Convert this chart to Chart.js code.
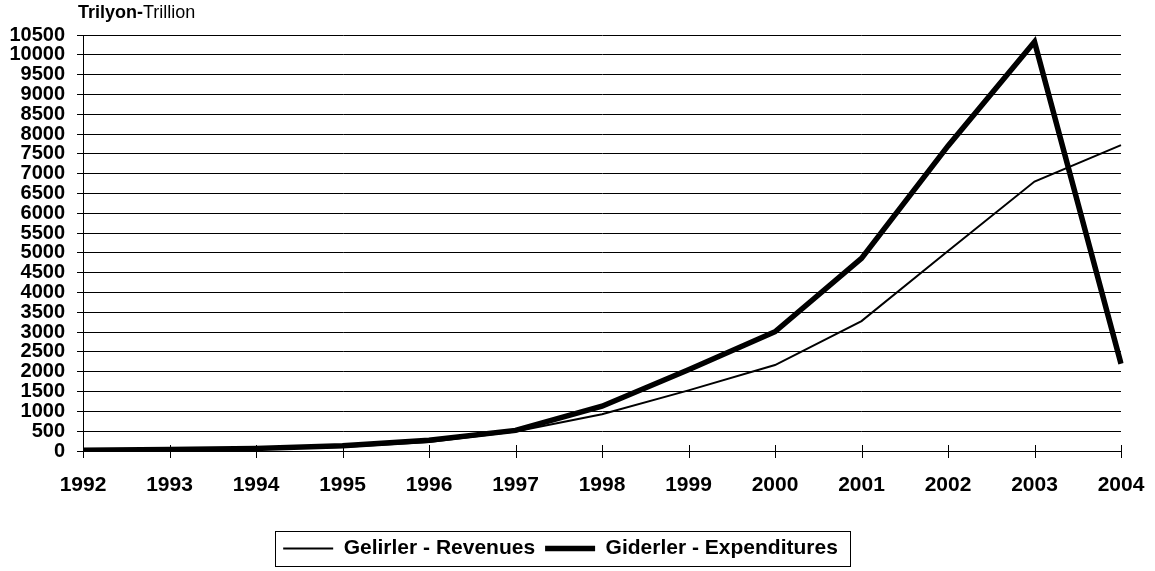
<!DOCTYPE html>
<html>
<head>
<meta charset="utf-8">
<script src="https://cdn.jsdelivr.net/npm/chart.js@4.4.1/dist/chart.umd.min.js"></script>
<style>
  html, body { margin: 0; padding: 0; background: #fff; }
  #wrap { width: 1155px; height: 571px; }
</style>
</head>
<body>
<div id="wrap"><canvas id="chart" width="1155" height="571"></canvas></div>
<script>
const years = ["1992", "1993", "1994", "1995", "1996", "1997", "1998", "1999", "2000", "2001", "2002", "2003", "2004"];
const revenues = [15, 30, 50, 100, 230, 490, 930, 1530, 2170, 3280, 5050, 6800, 7720];
const expenditures = [20, 35, 65, 130, 270, 520, 1130, 2050, 3010, 4860, 7700, 10330, 2200];
const yMin = 0;
const yMax = 10500;
const yStep = 500;
const unitBold = "Trilyon-";
const unitNormal = "Trillion";

const FONT = "Arial, 'Liberation Sans', sans-serif";
Chart.defaults.font.family = FONT;
Chart.defaults.color = "#000";

// unit caption above the y axis, bold + regular in one line
const unitCaption = {
  id: "unitCaption",
  afterDraw(chart) {
    const ctx = chart.ctx;
    ctx.save();
    ctx.fillStyle = "#000";
    ctx.textBaseline = "alphabetic";
    ctx.font = "bold 18px " + FONT;
    const x0 = 78;
    ctx.fillText(unitBold, x0, 18);
    const w = ctx.measureText(unitBold).width;
    ctx.font = "18px " + FONT;
    ctx.fillText(unitNormal, x0 + w, 18);
    ctx.restore();
  }
};

// small tick marks crossing the x axis
const xTickMarks = {
  id: "xTickMarks",
  afterDraw(chart) {
    const x = chart.scales.x;
    const bottom = chart.chartArea.bottom;
    const ctx = chart.ctx;
    ctx.save();
    ctx.strokeStyle = "#000";
    ctx.lineWidth = 1;
    ctx.beginPath();
    for (let i = 0; i < x.ticks.length; i++) {
      const px = Math.round(x.getPixelForTick(i)) + 0.5;
      ctx.moveTo(px, bottom - 6);
      ctx.lineTo(px, bottom + 7);
    }
    ctx.stroke();
    ctx.restore();
  }
};

// frame round the legend
const legendFrame = {
  id: "legendFrame",
  afterDraw(chart) {
    const boxes = chart.legend.legendHitBoxes;
    if (!boxes || !boxes.length) return;
    const first = boxes[0];
    const last = boxes[boxes.length - 1];
    const left = first.left - 8;
    const right = last.left + last.width + 12;
    const top = first.top - 7;
    const bottom = first.top + first.height + 7;
    const ctx = chart.ctx;
    ctx.save();
    ctx.strokeStyle = "#000";
    ctx.lineWidth = 1;
    ctx.strokeRect(Math.round(left) + 0.5, Math.round(top) + 0.5, Math.round(right - left), Math.round(bottom - top));
    ctx.restore();
  }
};

new Chart(document.getElementById("chart"), {
  type: "line",
  data: {
    labels: years,
    datasets: [
      {
        label: "Gelirler - Revenues",
        data: revenues,
        borderColor: "#000",
        backgroundColor: "#000",
        borderWidth: 2,
        pointRadius: 0,
        tension: 0
      },
      {
        label: "Giderler - Expenditures",
        data: expenditures,
        borderColor: "#000",
        backgroundColor: "#000",
        borderWidth: 5.5,
        pointRadius: 0,
        tension: 0
      }
    ]
  },
  options: {
    responsive: false,
    animation: false,
    layout: { padding: { top: 35, right: 34, bottom: 2, left: 0 } },
    scales: {
      x: {
        offset: false,
        grid: { display: false },
        border: { display: false },
        ticks: {
          font: { size: 21, weight: "bold" },
          color: "#000",
          padding: 14,
          maxRotation: 0,
          autoSkip: false
        },
        afterFit(scale) {
          scale.height = 77;
          scale.paddingLeft = 0;
          scale.paddingRight = 0;
        }
      },
      y: {
        min: yMin,
        max: yMax,
        grid: { color: "#000", lineWidth: 1, tickLength: 6 },
        border: { display: true, color: "#000", width: 1 },
        ticks: {
          stepSize: yStep,
          autoSkip: false,
          font: { size: 20, weight: "bold", lineHeight: 1 },
          color: "#000",
          padding: 12,
          callback: (v) => String(v)
        },
        afterFit(scale) { scale.width = 83; }
      }
    },
    plugins: {
      title: { display: false },
      tooltip: { enabled: false },
      legend: {
        position: "bottom",
        onClick: null,
        labels: {
          usePointStyle: true,
          pointStyle: "line",
          pointStyleWidth: 50,
          font: { size: 21, weight: "bold" },
          color: "#000",
          padding: 10
        }
      }
    }
  },
  plugins: [unitCaption, xTickMarks, legendFrame]
});
</script>
</body>
</html>
